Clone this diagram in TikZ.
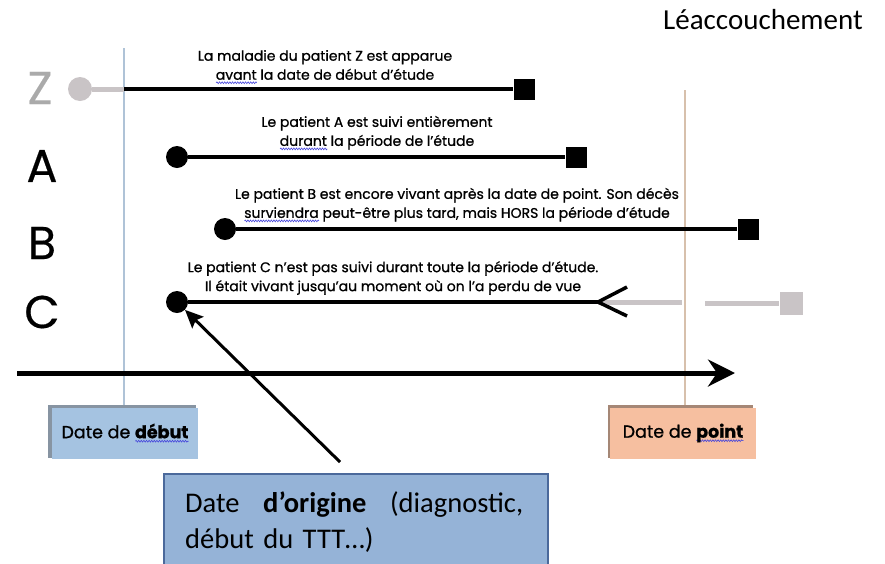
\documentclass[tikz,border=0pt]{standalone}
\usepackage{fontspec}
\usetikzlibrary{arrows.meta,decorations.pathmorphing}
\newfontfamily\futura[FakeBold=0.8]{Poppins}
\newfontfamily\futurarow[FakeBold=0.4]{Poppins}
\newfontfamily\calib{Carlito}
\definecolor{zgrey}{RGB}{170,170,170}
\definecolor{greyln}{RGB}{201,196,198}
\definecolor{vblue}{RGB}{175,195,215}
\definecolor{vtan}{RGB}{215,192,172}
\definecolor{debutc}{RGB}{165,195,225}
\definecolor{debutsh}{RGB}{135,148,162}
\definecolor{pointc}{RGB}{246,191,160}
\definecolor{pointsh}{RGB}{165,135,118}
\definecolor{origc}{RGB}{149,179,215}
\definecolor{obord}{RGB}{75,105,155}
\definecolor{squig}{RGB}{70,70,220}
\newsavebox\sqbox
\newlength\sqw
\newcommand\sq[1]{\sbox\sqbox{#1}\setlength\sqw{\wd\sqbox}\leavevmode\rlap{\tikz[x=1pt,y=1pt,baseline=0pt]{\draw[squig,line width=0.6pt,decorate,decoration={snake,amplitude=0.9pt,segment length=2.6pt}] (0pt,-3pt) -- (\sqw,-3pt);}}\usebox\sqbox}
\begin{document}
\begin{tikzpicture}[x=1pt,y=-1pt,
  blk/.style={line width=4.5pt, black},
  gry/.style={line width=5pt, greyln},
  dot/.style={circle, fill=black, minimum size=22pt, inner sep=0pt},
  sqr/.style={rectangle, fill=black, minimum size=21pt, inner sep=0pt},
  lbl/.style={font=\futura\fontsize{14}{19}\selectfont, align=center, inner sep=0pt},
  rowl/.style={font=\futurarow\fontsize{46}{46}\selectfont, inner sep=0pt},
  datebox/.style={minimum width=146pt, minimum height=51pt, inner sep=0pt, font=\futura\fontsize{17.5}{20}\selectfont},
]
\useasboundingbox (0,0) rectangle (885,563);
\fill[white] (0,0) rectangle (885,563);

% vertical date lines
\coordinate (vb0) at (124,48);
\coordinate (vb1) at (124,407);
\coordinate (vt0) at (685,90);
\coordinate (vt1) at (685,407);
\draw[line width=1.2pt, vblue] (vb0) -- (vb1);
\draw[line width=1.2pt, vtan] (vt0) -- (vt1);

% title
\node[anchor=base west, font=\calib\fontsize{29}{35}\selectfont, inner sep=0pt] (tL) at (663,29) {Léaccouchement};

% row letters
\node[rowl, text=zgrey] (lZ) at (40,88) {Z};
\node[rowl] (lA) at (42,166) {A};
\node[rowl] (lB) at (42,243) {B};
\node[rowl] (lC) at (42,312) {C};

% Z row
\node[circle, fill=greyln, minimum size=24pt, inner sep=0pt] (cZ) at (80,89) {};
\coordinate (zb) at (124,89);
\node[sqr] (sZ) at (524,89) {};
\draw[gry] (cZ) -- (zb);
\draw[blk] (zb) -- (sZ);
\node[lbl] (tZ) at (325,67) {La maladie du patient Z est apparue\\\sq{avant} la date de début d’étude};

% A row
\node[dot] (cA) at (177,157) {};
\node[sqr] (sA) at (576,157) {};
\draw[blk] (cA) -- (sA);
\node[lbl] (tA) at (377,133) {Le patient A est suivi entièrement\\\sq{durant} la période de l’étude};

% B row
\node[dot] (cB) at (225,229) {};
\node[sqr] (sB) at (748,229) {};
\draw[blk] (cB) -- (sB);
\node[lbl] (tB) at (457,205) {Le patient B est encore vivant après la date de point. Son décès\\\sq{surviendra} peut-être plus tard, mais HORS la période d’étude};

% C row
\node[dot] (cC) at (177,302) {};
\coordinate (cTip) at (598,302);
\coordinate (cT1) at (627,287);
\coordinate (cT2) at (627,316);
\coordinate (cLost) at (682,302);
\coordinate (cR) at (705,303);
\node[rectangle, fill=greyln, minimum size=23pt, inner sep=0pt] (sC) at (791,303) {};
\draw[gry] (cTip) -- (cLost);
\draw[blk] (cC) -- (cTip);
\draw[line width=3.5pt, line join=miter] (cT1) -- (cTip) -- (cT2);
\draw[gry] (cR) -- (sC);
\node[lbl] (tC) at (393,278) {Le patient C n’est pas suivi durant toute la période d’étude.\\Il était vivant jusqu’au moment où on l’a perdu de vue};

% time axis
\coordinate (ax0) at (17,373);
\coordinate (ax1) at (735,373);
\draw[line width=5pt, -{Stealth[length=27pt,width=27pt,inset=9pt]}] (ax0) -- (ax1);

% date boxes
\fill[debutsh] (48,405) rectangle (196,458);
\node[datebox, fill=debutc] (bD) at (125,433) {Date de \textbf{\sq{début}}};
\fill[pointsh] (608,405) rectangle (753,458);
\node[datebox, fill=pointc] (bP) at (683,433) {Date de \textbf{\sq{point}}};

% origin box
\node[draw=obord, line width=1.5pt, fill=origc, minimum width=384pt, minimum height=100pt, anchor=north west, inner sep=0pt] (bO) at (163,473) {};
\node[anchor=north west, text width=338pt, inner sep=0pt, align=left, font=\calib\fontsize{28.5}{36}\selectfont] (tO) at (185,491) {Date\hfill\textbf{d’origine}\hfill(diagnostic,\\début du TTT…)};
\coordinate (oS) at (340,462);
\draw[line width=3pt, -{Stealth[length=18pt,width=16pt,inset=3pt]}] (oS) -- (cC);
\end{tikzpicture}
\end{document}
